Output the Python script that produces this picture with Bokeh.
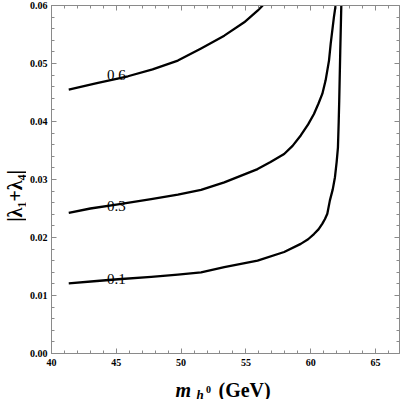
import numpy as np
from bokeh.plotting import figure
from bokeh.layouts import row, column
from bokeh.models import Range1d, FixedTicker, LinearAxis, NumeralTickFormatter
from bokeh.core.properties import value
from bokeh.embed import file_html
from bokeh.resources import INLINE

# ---- data ----
mass_01 = [41.33, 43.5, 45.13, 47.7, 49.75, 51.54, 53.33, 55.9, 57.95, 59.23,
           59.8, 60.25, 60.6, 60.9, 61.1, 61.28, 61.48, 61.7, 61.87, 62.0,
           62.1, 62.16, 62.2, 62.28, 62.36]
lam_01 = [0.0121, 0.0125, 0.0128, 0.0132, 0.0136, 0.0140, 0.0149, 0.0160, 0.0175, 0.0189,
          0.0197, 0.0206, 0.0214, 0.0224, 0.0232, 0.0241, 0.0264, 0.0283, 0.0304, 0.0330,
          0.0355, 0.0400, 0.0436, 0.0522, 0.0600]

mass_03 = [41.33, 43.0, 45.13, 47.69, 49.75, 51.54, 53.33, 55.9, 56.9, 57.95,
           58.6, 59.23, 59.8, 60.25, 60.6, 60.9, 61.15, 61.41, 61.54, 61.79, 61.92]
lam_03 = [0.02425, 0.0250, 0.0257, 0.0266, 0.0274, 0.0282, 0.0295, 0.0318, 0.0330, 0.0344,
          0.0358, 0.0376, 0.0395, 0.0413, 0.0431, 0.0448, 0.0471, 0.0505, 0.0534, 0.0580,
          0.0600]

mass_06 = [41.33, 43.5, 45.9, 47.8, 49.75, 51.54, 53.33, 54.87, 55.9, 56.3]
lam_06 = [0.0455, 0.0466, 0.0478, 0.0490, 0.0505, 0.0526, 0.0548, 0.0571, 0.0591, 0.0600]

curve_labels = ["0.1", "0.3", "0.6"]
label_x = [45.0, 45.0, 45.0]
label_y = [0.0129, 0.0255, 0.0481]

x_ticks = [40, 45, 50, 55, 60, 65]
x_minor = [v for v in range(40, 67) if v % 5 != 0]
y_ticks = [0.00, 0.01, 0.02, 0.03, 0.04, 0.05, 0.06]
y_minor = [round(i * 0.002, 3) for i in range(31) if i % 5 != 0]

x_title_parts = ["m", "h", "0", "(GeV)"]
y_title = "|λ₁+λ₄|"

GRAY = "#8a8a8a"
SERIF = "Liberation Serif"

TOTAL_W, TOTAL_H = 400, 399
YW = 26          # width of the strip holding the y title
XH = 28          # height of the strip holding the x title
MAIN_W = TOTAL_W - YW
MAIN_H = TOTAL_H - XH

p = figure(width=MAIN_W, height=MAIN_H, x_range=Range1d(40, 66.85), y_range=Range1d(0, 0.06),
           output_backend="svg", toolbar_location=None,
           min_border_left=24, min_border_right=1, min_border_top=5, min_border_bottom=18,
           x_axis_location=None, y_axis_location=None)
p.grid.visible = False
p.outline_line_color = GRAY
p.border_fill_color = "white"


def style(ax, labels=True, ticks=()):
    ax.axis_line_color = GRAY
    ax.major_tick_line_color = GRAY
    ax.minor_tick_line_color = GRAY
    ax.major_tick_in = 5
    ax.major_tick_out = 0
    ax.minor_tick_in = 3
    ax.minor_tick_out = 0
    ax.major_label_text_font = SERIF
    ax.major_label_text_font_style = "bold"
    ax.major_label_text_font_size = "10px"
    ax.major_label_text_color = "black"
    ax.major_label_standoff = 5
    if not labels:
        ax.major_label_overrides = {t: "" for t in ticks}
        ax.major_label_standoff = 0


bx = LinearAxis(ticker=FixedTicker(ticks=x_ticks, minor_ticks=x_minor))
style(bx)
p.add_layout(bx, "below")
tx = LinearAxis(ticker=FixedTicker(ticks=x_ticks, minor_ticks=x_minor))
style(tx, labels=False, ticks=x_ticks)
p.add_layout(tx, "above")

ly = LinearAxis(ticker=FixedTicker(ticks=y_ticks, minor_ticks=y_minor),
                formatter=NumeralTickFormatter(format="0.00"))
style(ly)
ly.major_label_standoff = 4
p.add_layout(ly, "left")
ry = LinearAxis(ticker=FixedTicker(ticks=y_ticks, minor_ticks=y_minor))
style(ry, labels=False, ticks=y_ticks)
p.add_layout(ry, "right")

for xs, ys in [(mass_01, lam_01), (mass_03, lam_03), (mass_06, lam_06)]:
    p.line(xs, ys, line_color="black", line_width=2.3, line_join="round")

p.text(x=label_x, y=label_y, text=curve_labels, text_font=value(SERIF),
       text_font_size="15px", text_align="center", text_baseline="alphabetic",
       text_color="black")

# ---- strip on the left: y title ----
yf = figure(width=YW, height=MAIN_H, x_range=Range1d(0, YW), y_range=Range1d(0, MAIN_H),
            output_backend="svg", toolbar_location=None, min_border=0,
            x_axis_location=None, y_axis_location=None)
yf.grid.visible = False
yf.outline_line_color = None
yf.text(x=[14], y=[MAIN_H - 203], text=[y_title], angle=np.pi / 2, text_font=value(SERIF),
        text_font_style="bold", text_font_size="20px", text_align="center",
        text_baseline="middle", text_color="black")

# ---- strip below (full width): x title  m_{h^0} (GeV) ----
xf = figure(width=TOTAL_W, height=XH, x_range=Range1d(0, TOTAL_W), y_range=Range1d(0, XH),
            output_backend="svg", toolbar_location=None, min_border=0,
            x_axis_location=None, y_axis_location=None)
xf.grid.visible = False
xf.outline_line_color = None
xpos = [175, 196, 205.5, 218]
ypos = [9.5, 5, 10, 9.5]
sizes = ["20px", "13px", "10px", "20px"]
styles = ["bold italic", "bold italic", "bold", "bold"]
for t, x, y, s, st in zip(x_title_parts, xpos, ypos, sizes, styles):
    xf.text(x=[x], y=[y], text=[t], text_font=value(SERIF), text_font_style=st,
            text_font_size=s, text_align="left", text_baseline="alphabetic",
            text_color="black")

layout = column(row(yf, p, spacing=0), xf, spacing=0)
open("out.html", "w").write(file_html(layout, INLINE))
